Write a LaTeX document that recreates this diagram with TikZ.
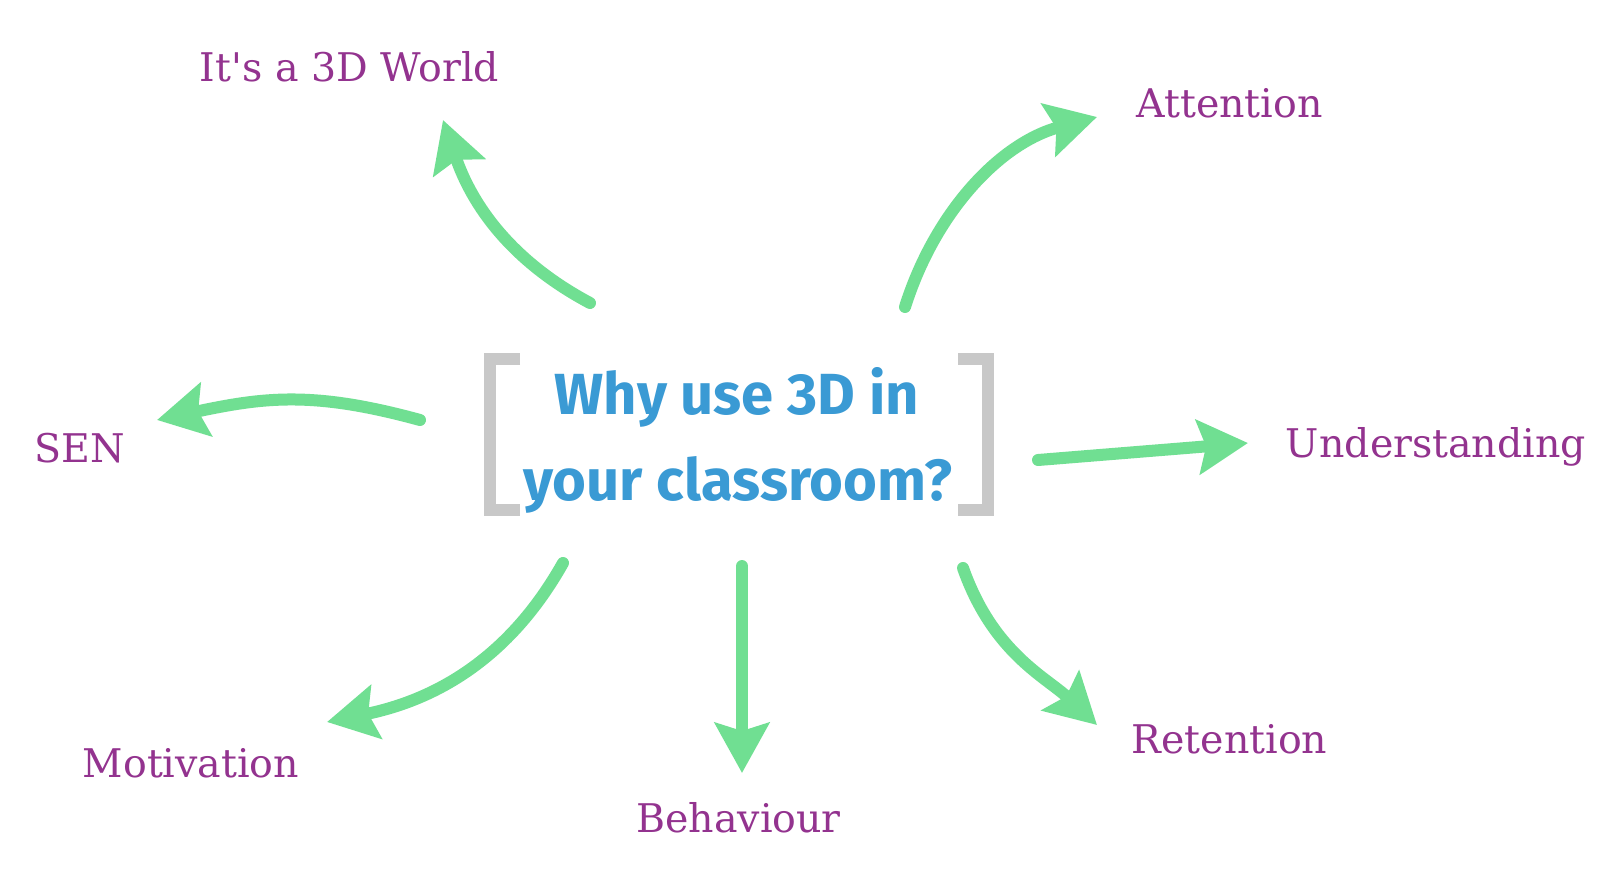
\documentclass[tikz,border=0pt]{standalone}
\usepackage{fontspec}
\newfontfamily\lblfont{DejaVu Serif}
\newfontfamily\qfont{Fira Sans}
\usetikzlibrary{arrows.meta}
\definecolor{lblc}{HTML}{93338F}
\definecolor{qblue}{HTML}{3A9AD4}
\definecolor{arr}{HTML}{70DF92}
\definecolor{brk}{HTML}{C8C8C8}
\tikzset{
  lbl/.style={font=\lblfont\fontsize{39.5}{47}\selectfont, text=lblc, anchor=base, inner sep=0pt},
  qtext/.style={font=\qfont\bfseries\fontsize{58}{68}\selectfont, text=qblue, anchor=base, inner sep=0pt},
  greenarrow/.style={draw=arr, line width=12pt, line cap=round, -{Stealth[length=50pt,width=54pt,inset=8pt]}},
  bracket/.style={draw=brk, line width=12pt},
}
\begin{document}
\begin{tikzpicture}[x=1pt,y=-1pt]
\useasboundingbox[fill=white] (0,0) rectangle (1619,880);
% central question
\node[qtext] (q1) at (737,414) {Why use 3D in};
\node[qtext] (q2) at (738,500) {your classroom?};
\draw[bracket] (520,359) -- (489.5,359) -- (489.5,510) -- (520,510);
\draw[bracket] (958,359) -- (988,359) -- (988,510) -- (958,510);
% labels
\node[lbl] (world) at (349.5,82) {It's a 3D World};
\node[lbl] (att) at (1229.5,118) {Attention};
\node[lbl] (und) at (1436,457) {Understanding};
\node[lbl] (sen) at (80,462) {SEN};
\node[lbl] (mot) at (191,777) {Motivation};
\node[lbl] (beh) at (738.5,832) {Behaviour};
\node[lbl] (ret) at (1229.5,753) {Retention};
% arrow ends
\coordinate (t1) at (590,303);  \coordinate (h1) at (443,120);
\coordinate (t2) at (905,307);  \coordinate (h2) at (1097,117);
\coordinate (t3) at (1038,460); \coordinate (h3) at (1248,443);
\coordinate (t4) at (420,420);  \coordinate (h4) at (157,420);
\coordinate (t5) at (563,563);  \coordinate (h5) at (327,722);
\coordinate (t6) at (742,566);  \coordinate (h6) at (742,773);
\coordinate (t7) at (963,568);  \coordinate (h7) at (1097,725);
% arrows
\draw[greenarrow] (t1) .. controls (511,261) and (472,205) .. (h1);
\draw[greenarrow] (t2) .. controls (935,212) and (1000,143) .. (h2);
\draw[greenarrow] (t3) -- (h3);
\draw[greenarrow] (t4) .. controls (314,391) and (265,397) .. (h4);
\draw[greenarrow] (t5) .. controls (509,659) and (435,700) .. (h5);
\draw[greenarrow] (t6) -- (h6);
\draw[greenarrow] (t7) .. controls (993,653) and (1046,677) .. (h7);
\end{tikzpicture}
\end{document}
